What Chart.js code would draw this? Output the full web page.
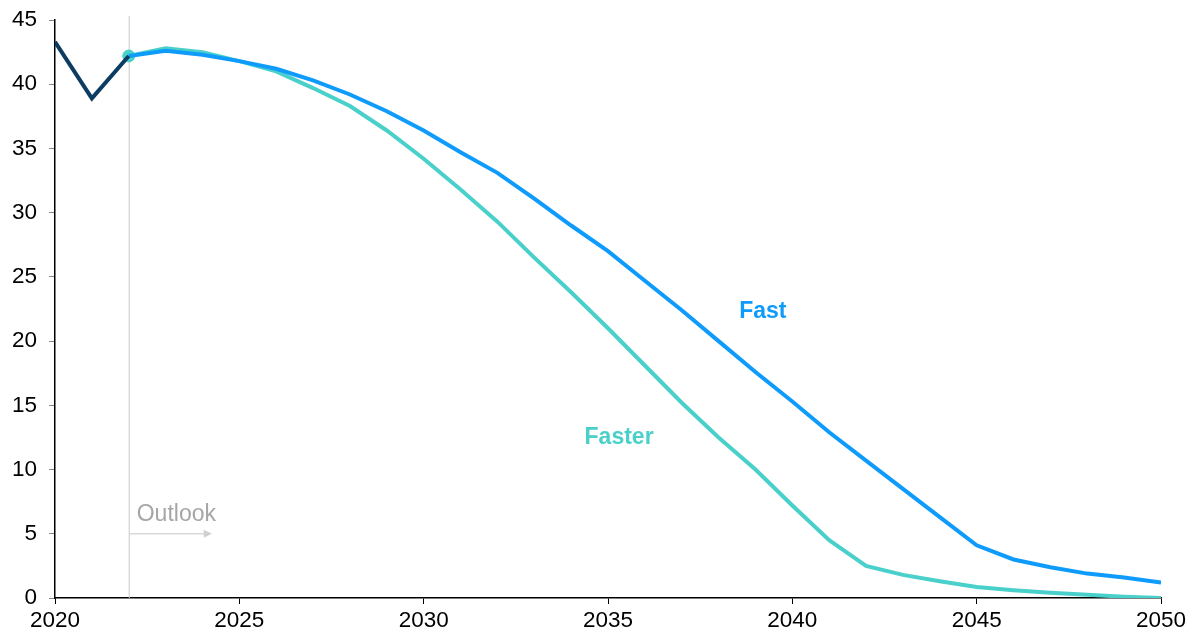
<!DOCTYPE html>
<html>
<head>
<meta charset="utf-8">
<script src="https://cdn.jsdelivr.net/npm/chart.js@4.4.1/dist/chart.umd.min.js"></script>
<style>
  html, body { margin: 0; padding: 0; background: #fff; }
  #wrap { width: 1193px; height: 637px; }
</style>
</head>
<body>
<div id="wrap"><canvas id="chart" width="1193" height="637"></canvas></div>
<script>
// ===== Data =====
const histYears = [2020, 2021, 2022];
const histValues = [43.3, 38.9, 42.2];

const outlookYears = [2022, 2023, 2024, 2025, 2026, 2027, 2028, 2029, 2030, 2031, 2032, 2033, 2034, 2035, 2036,
  2037, 2038, 2039, 2040, 2041, 2042, 2043, 2044, 2045, 2046, 2047, 2048, 2049, 2050];
const fastValues = [42.2, 42.6, 42.3, 41.8, 41.2, 40.3, 39.2, 37.9, 36.4, 34.7, 33.1, 31.1, 29.0, 27.0, 24.7,
  22.4, 20.0, 17.6, 15.3, 12.9, 10.7, 8.5, 6.3, 4.1, 3.0, 2.4, 1.9, 1.6, 1.2];
const fasterValues = [42.2, 42.8, 42.5, 41.8, 41.0, 39.7, 38.3, 36.4, 34.2, 31.8, 29.3, 26.5, 23.8, 21.0, 18.1,
  15.2, 12.5, 10.0, 7.2, 4.5, 2.5, 1.8, 1.3, 0.85, 0.6, 0.4, 0.25, 0.1, 0.0];

const xTicks = [2020, 2025, 2030, 2035, 2040, 2045, 2050];
const outlookStart = 2022;

const FONT = "'Liberation Sans', Arial, sans-serif";
const NAVY = "#0c3c61";
const BLUE = "#0e9bfb";
const TEAL = "#4ad0ca";

function pts(xs, ys) {
  return xs.map((x, i) => ({ x: x, y: ys[i] }));
}

// ===== Annotations: outlook line, arrow, series labels =====
const annotations = {
  id: "annotations",
  beforeDatasetsDraw(chart) {
    const { ctx, scales: { x, y }, chartArea } = chart;
    const px = x.getPixelForValue(outlookStart);
    ctx.save();
    ctx.strokeStyle = "#c8c8c8";
    ctx.lineWidth = 1;
    ctx.beginPath();
    ctx.moveTo(px + 0.5, chartArea.top - 4);
    ctx.lineTo(px + 0.5, chartArea.bottom);
    ctx.stroke();

    // "Outlook" label and arrow
    ctx.fillStyle = "#a6a6a6";
    ctx.font = "23px " + FONT;
    ctx.textAlign = "left";
    ctx.textBaseline = "middle";
    ctx.fillText("Outlook", px + 8, y.getPixelForValue(6.5));
    const ay = y.getPixelForValue(5.0);
    ctx.strokeStyle = "#d9d9d9";
    ctx.lineWidth = 1.5;
    ctx.beginPath();
    ctx.moveTo(px, ay);
    ctx.lineTo(px + 76, ay);
    ctx.stroke();
    ctx.fillStyle = "#cfcfcf";
    ctx.beginPath();
    ctx.moveTo(px + 83, ay);
    ctx.lineTo(px + 75, ay - 4);
    ctx.lineTo(px + 75, ay + 4);
    ctx.closePath();
    ctx.fill();
    ctx.restore();
  },
  afterDatasetsDraw(chart) {
    const { ctx, scales: { x, y } } = chart;
    ctx.save();
    ctx.font = "bold 23px " + FONT;
    ctx.textAlign = "center";
    ctx.textBaseline = "middle";
    ctx.fillStyle = BLUE;
    ctx.fillText("Fast", x.getPixelForValue(2039.2), y.getPixelForValue(22.3));
    ctx.fillStyle = TEAL;
    ctx.fillText("Faster", x.getPixelForValue(2035.3), y.getPixelForValue(12.5));
    ctx.restore();
  }
};

new Chart(document.getElementById("chart").getContext("2d"), {
  type: "line",
  data: {
    datasets: [
      {
        label: "History",
        data: pts(histYears, histValues),
        borderColor: NAVY,
        borderWidth: 4,
        pointRadius: 0,
        tension: 0
      },
      {
        label: "Fast",
        data: pts(outlookYears, fastValues),
        borderColor: BLUE,
        borderWidth: 4,
        pointRadius: 0,
        tension: 0
      },
      {
        label: "Faster",
        data: pts(outlookYears, fasterValues),
        borderColor: TEAL,
        borderWidth: 4,
        pointRadius: 0,
        tension: 0
      },
      {
        label: "Start",
        data: pts([histYears[2]], [histValues[2]]),
        borderColor: TEAL,
        backgroundColor: TEAL,
        pointRadius: 6,
        showLine: false
      }
    ]
  },
  options: {
    responsive: false,
    animation: false,
    layout: { padding: { top: 20, right: 32, left: 0, bottom: 0 } },
    plugins: {
      legend: { display: false },
      tooltip: { enabled: false }
    },
    scales: {
      x: {
        type: "linear",
        min: 2020,
        max: 2050,
        afterBuildTicks(axis) {
          axis.ticks = xTicks.map(v => ({ value: v }));
        },
        afterFit(axis) {
          axis.height = 39;
          axis.paddingLeft = 0;
          axis.paddingRight = 0;
        },
        border: { display: true, color: "#000", width: 1.5 },
        grid: { drawOnChartArea: false, drawTicks: true, tickLength: 6, color: "#000" },
        ticks: {
          color: "#000",
          font: { family: FONT, size: 22.5 },
          padding: 3,
          maxRotation: 0,
          callback: v => String(v)
        }
      },
      y: {
        min: 0,
        max: 45,
        afterFit(axis) {
          axis.width = 55;
          axis.paddingTop = 0;
          axis.paddingBottom = 0;
        },
        border: { display: true, color: "#000", width: 1.5 },
        grid: { drawOnChartArea: false, drawTicks: true, tickLength: 6, color: "#888" },
        ticks: {
          stepSize: 5,
          color: "#000",
          font: { family: FONT, size: 22.5 },
          padding: 12
        }
      }
    }
  },
  plugins: [annotations]
});
</script>
</body>
</html>
